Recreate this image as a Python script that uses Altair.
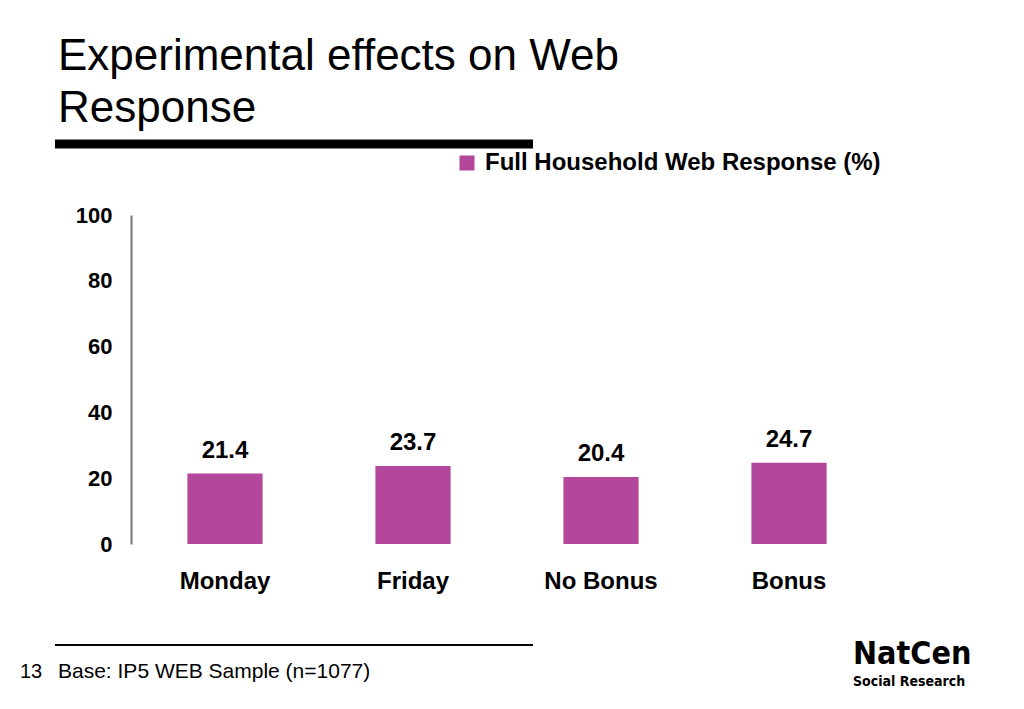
import altair as alt
import pandas as pd

categories = ["Monday", "Friday", "No Bonus", "Bonus"]
values = [21.4, 23.7, 20.4, 24.7]
series_name = "Full Household Web Response (%)"
y_ticks = [0, 20, 40, 60, 80, 100]

BAR = "#B3479B"
FONT = "Liberation Sans"
LOGO_FONT = "DejaVu Sans Condensed, Liberation Sans"

df = pd.DataFrame({"cat": categories, "val": values, "series": [series_name] * len(values)})

base = alt.Chart(df)

x_enc = alt.X("cat:N", sort=categories,
              scale=alt.Scale(paddingInner=0.6, paddingOuter=0.3),
              axis=alt.Axis(title=None, labelAngle=0, domain=False, ticks=False,
                            labelFont=FONT, labelFontWeight="bold", labelFontSize=24,
                            labelColor="black", labelPadding=25))
y_enc = alt.Y("val:Q", scale=alt.Scale(domain=[0, 100]),
              axis=alt.Axis(title=None, values=y_ticks, grid=False, ticks=False,
                            domainColor="#777777", domainWidth=2,
                            labelFont=FONT, labelFontWeight="bold", labelFontSize=22,
                            labelColor="black", labelPadding=19))

bars = base.mark_bar(color=BAR).encode(
    x=x_enc, y=y_enc,
    color=alt.Color("series:N", scale=alt.Scale(domain=[series_name], range=[BAR]),
                    legend=alt.Legend(title=None, orient="none", legendX=324, legendY=-64,
                                      symbolType="square", symbolSize=225, symbolStrokeWidth=0,
                                      labelFont=FONT, labelFontWeight="bold", labelFontSize=24,
                                      labelColor="black", labelOffset=6, padding=0,
                                      labelLimit=700)),
)

labels = base.mark_text(font=FONT, fontWeight="bold", fontSize=24, dy=-23,
                        baseline="middle", color="black").encode(
    x=alt.X("cat:N", sort=categories), y="val:Q", text=alt.Text("val:Q", format=".1f"))

def txt(s, x, y, size, weight="normal", font=FONT):
    return alt.Chart(pd.DataFrame({"t": [s]})).mark_text(
        align="left", baseline="alphabetic", font=font, fontSize=size,
        fontWeight=weight, color="black").encode(
        text="t:N", x=alt.value(x), y=alt.value(y))

def rule(x1, x2, y, w):
    return alt.Chart(pd.DataFrame({"a": [0]})).mark_rule(color="black", strokeWidth=w).encode(
        x=alt.value(x1), x2=alt.value(x2), y=alt.value(y))

deco = [
    txt("Experimental effects on Web", -73, -145, 44),
    txt("Response", -73, -93, 44),
    rule(-76, 402, -71, 9),
    rule(-76, 402, 430, 2),
    txt("13", -111, 463, 20),
    txt("Base: IP5 WEB Sample (n=1077)", -73, 463, 21),
    txt("NatCen", 722, 449, 32, "bold", LOGO_FONT),
    txt("Social Research", 722, 471, 14, "bold", LOGO_FONT),
]

chart = alt.layer(bars, labels, *deco).properties(
    width=752, height=329,
    autosize=alt.AutoSizeParams(type="none"),
    padding={"left": 123, "top": 207, "right": 120, "bottom": 160},
).configure_view(stroke=None)

chart.save("out.html", embed_options={"renderer": "svg", "actions": False})
